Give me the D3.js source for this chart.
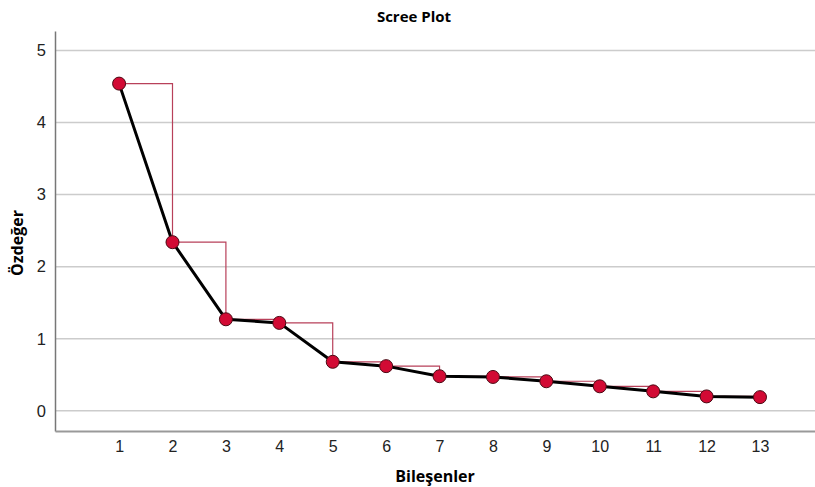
<!DOCTYPE html>
<html>
<head>
<meta charset="utf-8">
<script src="https://cdn.jsdelivr.net/npm/d3@7"></script>
<style>
  body { margin: 0; background: #fff; }
  svg { display: block; font-family: "Open Sans", "DejaVu Sans", sans-serif; }
</style>
</head>
<body>
<script>
var components = [1, 2, 3, 4, 5, 6, 7, 8, 9, 10, 11, 12, 13];
var eigenvalues = [4.54, 2.34, 1.27, 1.22, 0.68, 0.62, 0.48, 0.47, 0.41, 0.34, 0.27, 0.20, 0.19];
var yTicks = [0, 1, 2, 3, 4, 5];

var width = 815,
    height = 487;

var margin = { left: 55, right: 0, top: 31, bottom: 56 };

var x = d3.scaleLinear().domain([-0.2, 14.03]).range([margin.left, width - margin.right]);
var y = d3.scaleLinear().domain([-0.28, 5.27]).range([height - margin.bottom, margin.top]);

var svg = d3.select("body").append("svg").attr("width", width).attr("height", height);

// gridlines
svg.append('g').selectAll('line')
    .data(yTicks)
    .enter().append('line')
    .attr('x1', margin.left).attr('x2', width)
    .attr('y1', function(d) { return y(d); })
    .attr('y2', function(d) { return y(d); })
    .attr('stroke', "#cccccc")
    .attr('stroke-width', 1.5);

// axes
var yAxis = d3.axisLeft(y).tickValues(yTicks).tickFormat(d3.format("d")).tickSize(0).tickPadding(9);
var xAxis = d3.axisBottom(x).tickValues(components).tickSize(0).tickPadding(10);

var gy = svg.append('g')
    .attr('class', "axis y")
    .attr('transform', "translate(" + margin.left + ",0)")
    .call(yAxis);
gy.select('.domain').attr('stroke', "#777").attr('stroke-width', 1.5);
gy.selectAll('text').attr('font-size', 16.5).attr('fill', "#222");

var gx = svg.append('g')
    .attr('class', "axis x")
    .attr('transform', "translate(0," + (height - margin.bottom) + ")")
    .call(xAxis);
gx.select('.domain').attr('stroke', "#999").attr('stroke-width', 2);
gx.selectAll('text').attr('font-size', 16).attr('fill', "#222");

// step reference line
var step = d3.line()
    .x(function(d, i) { return x(components[i]); })
    .y(function(d) { return y(d); })
    .curve(d3.curveStepAfter);
svg.append('path')
    .attr('d', step(eigenvalues))
    .attr('fill', "none")
    .attr('stroke', "#b8405a")
    .attr('stroke-width', 1.2);

// main line
var line = d3.line()
    .x(function(d, i) { return x(components[i]); })
    .y(function(d) { return y(d); });
svg.append('path')
    .attr('d', line(eigenvalues))
    .attr('fill', "none")
    .attr('stroke', "#000")
    .attr('stroke-width', 3)
    .attr('stroke-linejoin', "round");

// markers
svg.append('g').selectAll('circle')
    .data(eigenvalues)
    .enter().append('circle')
    .attr('cx', function(d, i) { return x(components[i]); })
    .attr('cy', function(d) { return y(d); })
    .attr('r', 6.5)
    .attr('fill', "#d20a34")
    .attr('stroke', "#4a0a14")
    .attr('stroke-width', 1);

// titles
svg.append('text')
    .attr('x', 414).attr('y', 22)
    .attr('text-anchor', "middle")
    .attr('font-size', 15).attr('font-weight', "bold")
    .text("Scree Plot");

svg.append('text')
    .attr('x', 435).attr('y', 482)
    .attr('text-anchor', "middle")
    .attr('font-size', 16).attr('font-weight', "bold")
    .text("Bileşenler");

svg.append('text')
    .attr('transform', "translate(23,243) rotate(-90)")
    .attr('text-anchor', "middle")
    .attr('font-size', 16).attr('font-weight', "bold")
    .text("Özdeğer");
</script>
</body>
</html>
